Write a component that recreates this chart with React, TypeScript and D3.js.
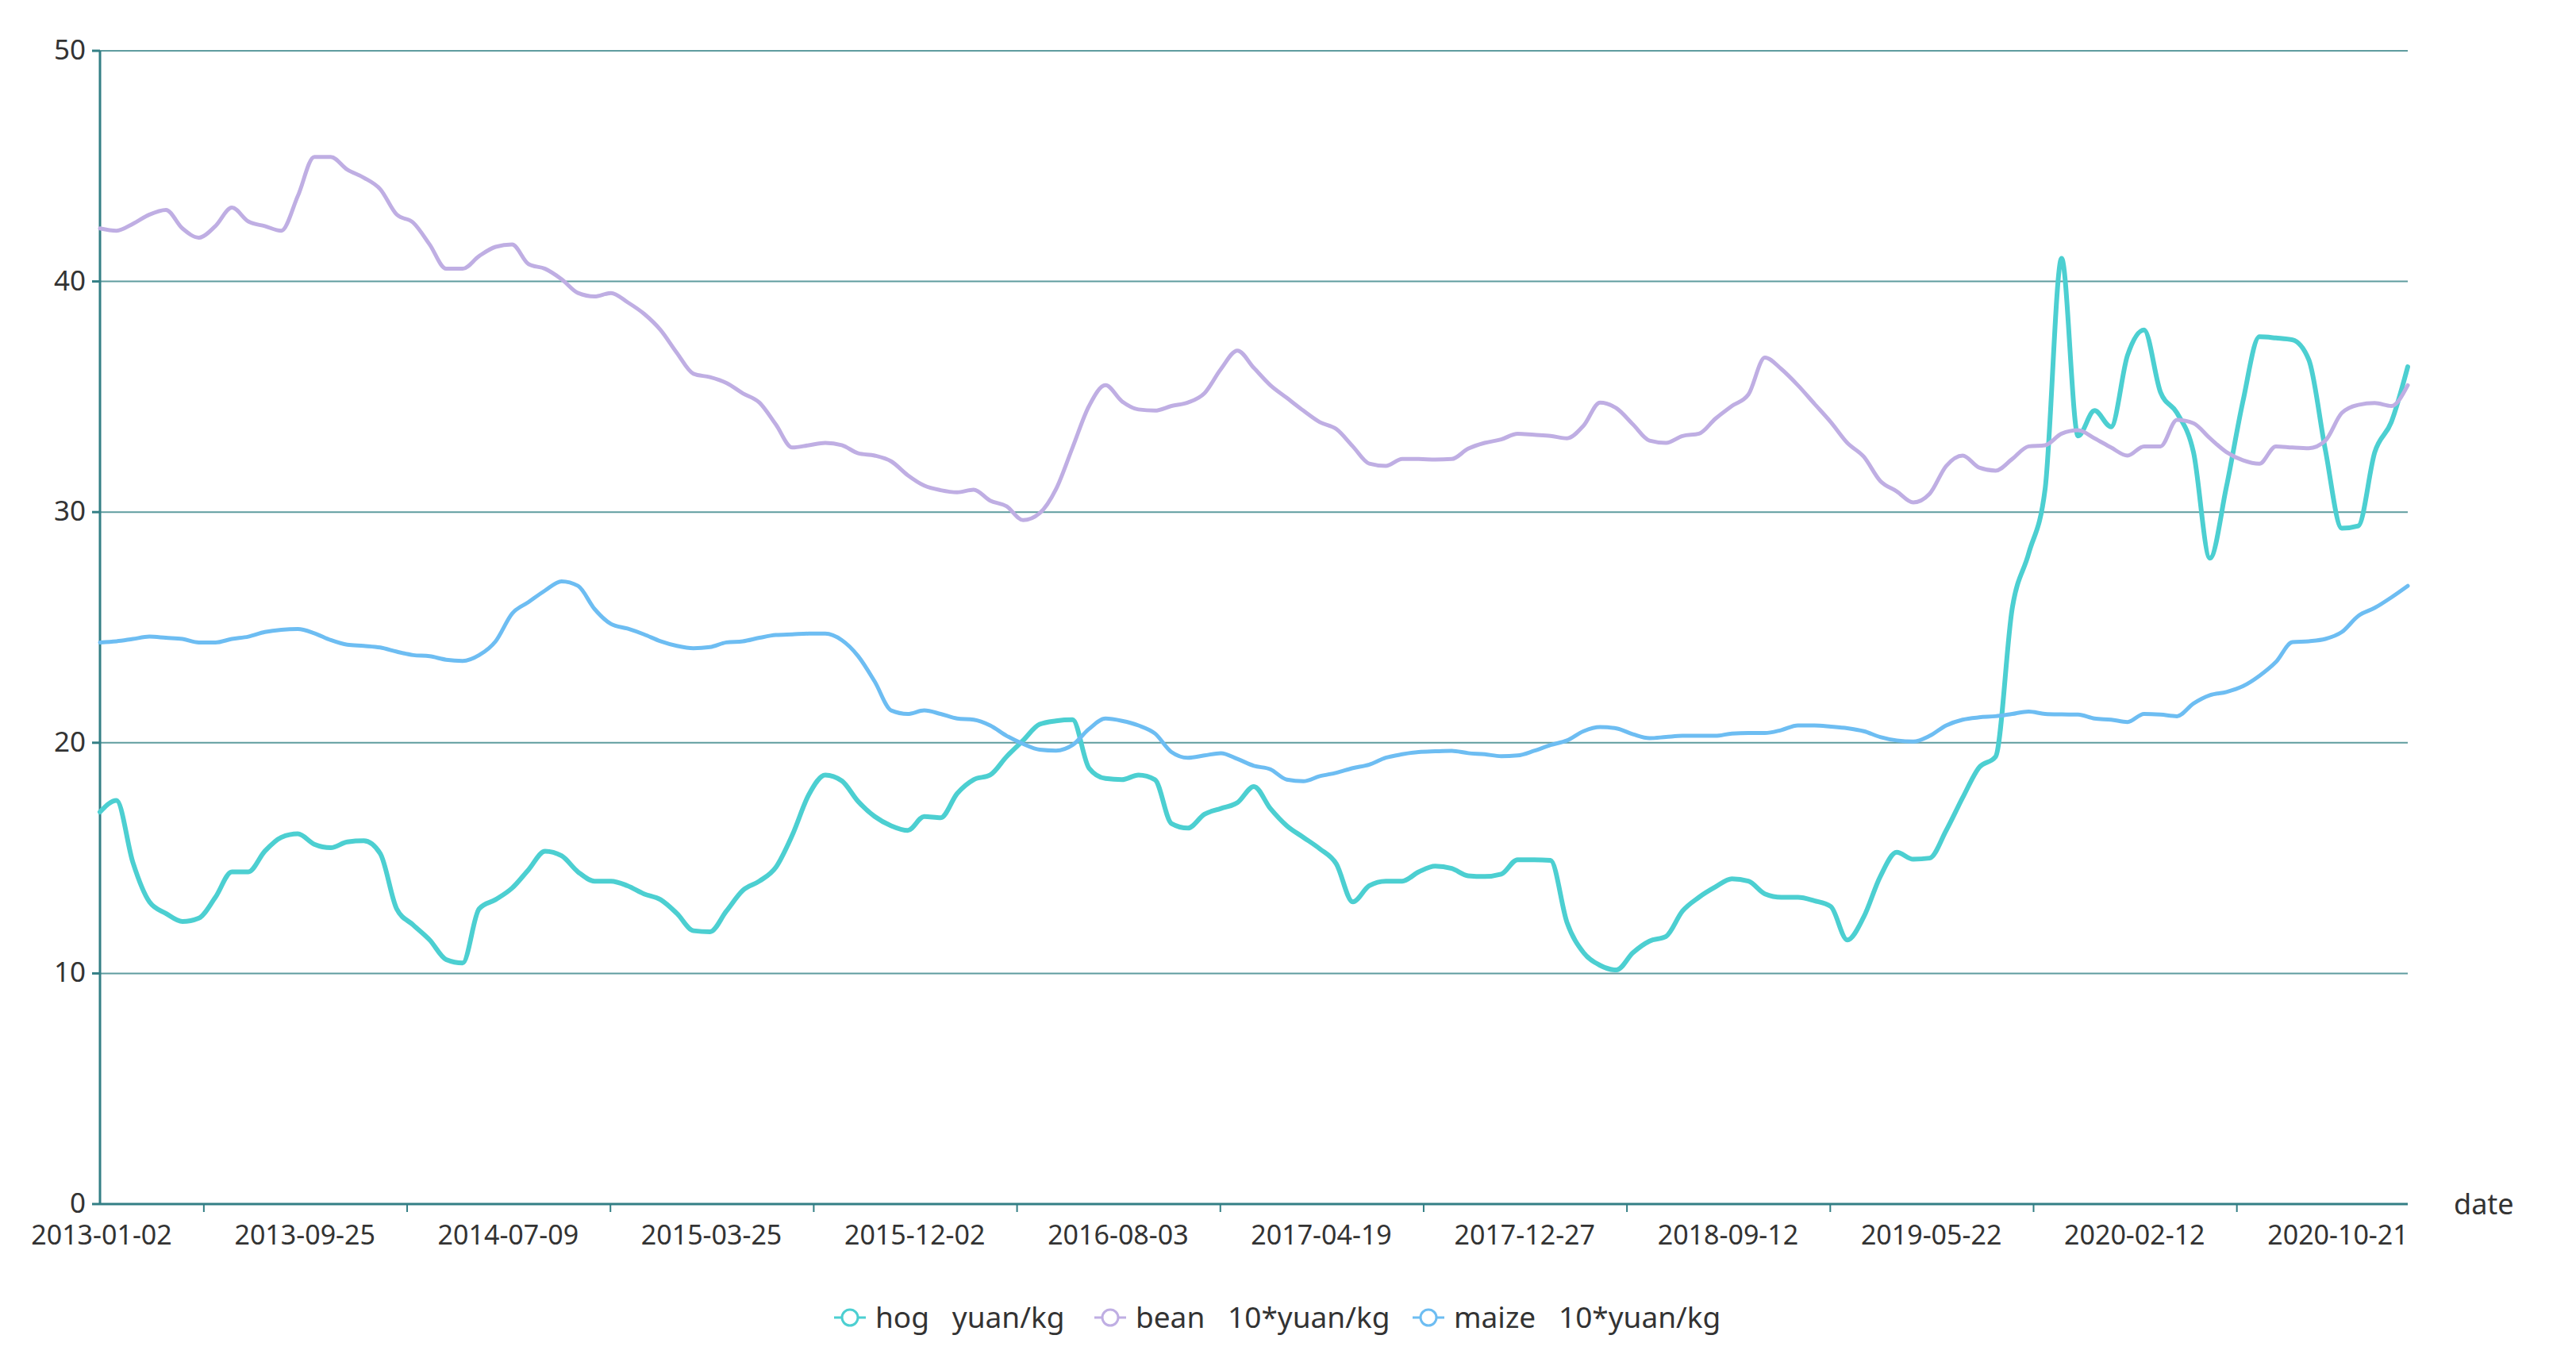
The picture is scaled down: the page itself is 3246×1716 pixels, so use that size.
import React from "react";
import * as d3 from "d3";

// weekly categories, sampled every `step` categories
const step = 3;
const labelEvery = 37;
const xLabels = [
  "2013-01-02", "2013-09-25", "2014-07-09", "2015-03-25", "2015-12-02", "2016-08-03",
  "2017-04-19", "2017-12-27", "2018-09-12", "2019-05-22", "2020-02-12", "2020-10-21",
];
const yTicks = [0, 10, 20, 30, 40, 50];

const hog = [
  17.0, 17.5, 14.8, 13.1, 12.6, 12.25, 12.4, 13.3, 14.4, 14.4, 15.3, 15.9, 16.05, 15.6, 15.45, 15.7,
  15.75, 15.2, 12.8, 12.1, 11.45, 10.6, 10.45, 12.8, 13.2, 13.7, 14.5, 15.3, 15.1, 14.4, 14.0, 14.0,
  13.8, 13.45, 13.2, 12.6, 11.85, 11.8, 12.7, 13.6, 14.0, 14.6, 16.0, 17.75, 18.6, 18.35, 17.45, 16.8,
  16.4, 16.2, 16.8, 16.75, 17.8, 18.4, 18.6, 19.4, 20.1, 20.8, 20.95, 21.0, 18.9, 18.45, 18.4, 18.6,
  18.4, 16.5, 16.3, 16.9, 17.15, 17.4, 18.1, 17.15, 16.4, 15.9, 15.4, 14.75, 13.1, 13.8, 14.0, 14.0,
  14.4, 14.65, 14.55, 14.23, 14.2, 14.3, 14.93, 14.93, 14.9, 12.2, 10.9, 10.35, 10.15, 10.9, 11.4, 11.6,
  12.7, 13.3, 13.75, 14.1, 14.0, 13.45, 13.3, 13.3, 13.15, 12.9, 11.45, 12.45, 14.2, 15.25, 14.95, 15.0,
  16.2, 17.62, 18.93, 19.4, 25.8, 28.2, 31.0, 41.0, 33.3, 34.4, 33.7, 36.8, 37.9, 35.2, 34.3, 32.6,
  28.0, 31.1, 34.8, 37.6, 37.55, 37.47, 36.6, 32.7, 29.3, 29.4, 32.6, 33.9, 36.3,
];

const bean = [
  42.3, 42.2, 42.5, 42.9, 43.1, 42.3, 41.9, 42.4, 43.2, 42.6, 42.4, 42.2, 43.7, 45.4, 45.4, 44.85,
  44.5, 44.0, 42.9, 42.55, 41.6, 40.55, 40.55, 41.1, 41.5, 41.6, 40.75, 40.55, 40.1, 39.5, 39.35, 39.5,
  39.1, 38.6, 37.9, 36.9, 36.0, 35.85, 35.6, 35.15, 34.75, 33.8, 32.8, 32.9, 33.0, 32.9, 32.55, 32.45,
  32.2, 31.6, 31.15, 30.95, 30.86, 30.97, 30.5, 30.25, 29.65, 29.95, 31.0, 32.8, 34.6, 35.5, 34.8, 34.45,
  34.4, 34.6, 34.75, 35.15, 36.2, 37.0, 36.25, 35.5, 34.95, 34.4, 33.9, 33.6, 32.85, 32.1, 32.0, 32.3,
  32.3, 32.28, 32.3, 32.75, 33.0, 33.15, 33.4, 33.35, 33.3, 33.2, 33.75, 34.75, 34.5, 33.8, 33.1, 33.0,
  33.3, 33.4, 34.05, 34.6, 35.1, 36.7, 36.2, 35.5, 34.7, 33.9, 33.0, 32.4, 31.35, 30.9, 30.42, 30.8,
  32.0, 32.45, 31.93, 31.8, 32.3, 32.85, 32.9, 33.4, 33.55, 33.2, 32.8, 32.45, 32.85, 32.85, 34.0, 33.85,
  33.2, 32.6, 32.25, 32.1, 32.85, 32.8, 32.77, 33.1, 34.3, 34.65, 34.73, 34.6, 35.5,
];

const maize = [
  24.35, 24.4, 24.5, 24.6, 24.55, 24.5, 24.35, 24.35, 24.5, 24.6, 24.8, 24.9, 24.93, 24.75, 24.45, 24.25,
  24.2, 24.13, 23.95, 23.8, 23.75, 23.6, 23.55, 23.8, 24.4, 25.6, 26.1, 26.6, 27.0, 26.8, 25.8, 25.15,
  24.95, 24.7, 24.4, 24.2, 24.1, 24.15, 24.35, 24.4, 24.55, 24.67, 24.7, 24.73, 24.73, 24.45, 23.75, 22.65,
  21.4, 21.25, 21.4, 21.25, 21.05, 21.0, 20.75, 20.3, 19.95, 19.7, 19.66, 19.9, 20.6, 21.05, 20.95, 20.75,
  20.4, 19.6, 19.35, 19.45, 19.55, 19.3, 19.0, 18.85, 18.4, 18.33, 18.55, 18.7, 18.9, 19.05, 19.35, 19.5,
  19.6, 19.63, 19.65, 19.55, 19.5, 19.42, 19.45, 19.65, 19.9, 20.1, 20.5, 20.68, 20.62, 20.37, 20.2, 20.25,
  20.3, 20.3, 20.3, 20.4, 20.42, 20.42, 20.55, 20.75, 20.75, 20.7, 20.63, 20.5, 20.25, 20.1, 20.05, 20.3,
  20.75, 21.0, 21.1, 21.15, 21.25, 21.35, 21.25, 21.23, 21.22, 21.05, 21.0, 20.9, 21.25, 21.22, 21.15, 21.7,
  22.06, 22.2, 22.45, 22.9, 23.5, 24.36, 24.4, 24.5, 24.8, 25.5, 25.85, 26.3, 26.8,
];

const seriesNames = ["hog   yuan/kg", "bean   10*yuan/kg", "maize   10*yuan/kg"];
const seriesColors = ["#4ccfd1", "#bfaee3", "#6dbdf2"];

const W = 3246;
const H = 1716;
const FONT = "'Noto Sans', 'Open Sans', sans-serif";
const TEXT = "#333333";
const AXIS = "#337f85";
const GRID = "#5f9c9f";

export default function App() {
  const lastIndex = (hog.length - 1) * step;
  const x = d3.scaleLinear().domain([0, lastIndex]).range([126, 3034]);
  const y = d3.scaleLinear().domain([0, 50]).range([1517, 64]);
  const line = d3
    .line<number>()
    .x((_, i) => x(i * step))
    .y((d) => y(d))
    .curve(d3.curveMonotoneX);

  const series = [hog, bean, maize];
  const widths = [6, 5, 5];
  const tickIdx = xLabels.slice(0, -1).map((_, k) => k * labelEvery + labelEvery / 2 + 0.4);
  const legendX = [1051, 1379, 1780];

  return (
    <svg
      width={W}
      height={H}
      style={{ position: "absolute", left: 0, top: 0, background: "#fff" }}
      fontFamily={FONT}
    >
      {/* grid lines */}
      {yTicks.filter((t) => t > 0).map((t) => (
        <line key={t} x1={x(0)} x2={x(lastIndex)} y1={y(t)} y2={y(t)} stroke={GRID} strokeWidth={2} />
      ))}
      {/* y axis */}
      <line x1={x(0)} x2={x(0)} y1={y(50)} y2={y(0)} stroke={AXIS} strokeWidth={3} />
      {yTicks.map((t) => (
        <g key={t}>
          <line x1={x(0) - 10} x2={x(0)} y1={y(t)} y2={y(t)} stroke={AXIS} strokeWidth={3} />
          <text x={x(0) - 18} y={y(t) + 11} textAnchor="end" fontSize={35} fill={TEXT}>
            {t}
          </text>
        </g>
      ))}
      {/* x axis */}
      <line x1={x(0)} x2={x(lastIndex)} y1={y(0)} y2={y(0)} stroke={AXIS} strokeWidth={3} />
      {tickIdx.map((ti, k) => (
        <line key={k} x1={x(ti)} x2={x(ti)} y1={y(0)} y2={y(0) + 10} stroke={AXIS} strokeWidth={2} />
      ))}
      {xLabels.map((lab, k) => (
        <text key={lab} x={x(k * labelEvery) + 2} y={y(0) + 51} textAnchor="middle" fontSize={34} fill={TEXT}>
          {lab}
        </text>
      ))}
      <text x={3092} y={y(0) + 13} fontSize={36} fill={TEXT}>
        date
      </text>

      {/* series */}
      {series.map((s, k) => (
        <path
          key={k}
          d={line(s) || ""}
          fill="none"
          stroke={seriesColors[k]}
          strokeWidth={widths[k]}
          strokeLinejoin="round"
          strokeLinecap="round"
        />
      ))}

      {/* legend */}
      {seriesNames.map((name, k) => (
        <g key={name} transform={`translate(${legendX[k]},1660)`}>
          <line x1={0} x2={40} y1={0} y2={0} stroke={seriesColors[k]} strokeWidth={3} />
          <circle cx={20} cy={0} r={10} fill="#fff" stroke={seriesColors[k]} strokeWidth={3} />
          <text x={52} y={13} fontSize={37} fill={TEXT} style={{ whiteSpace: "pre" }}>
            {name}
          </text>
        </g>
      ))}
    </svg>
  );
}
